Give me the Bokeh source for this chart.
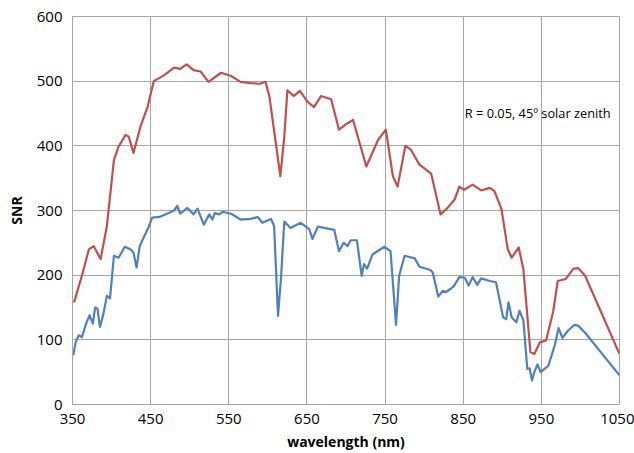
from bokeh.plotting import figure
from bokeh.models import Range1d, FixedTicker, Label
from bokeh.embed import file_html
from bokeh.resources import INLINE

# Upper curve (red)
red_wl = [352, 362, 371, 377, 386, 394, 403, 409, 418, 422, 428, 437, 446, 454, 467,
          480, 488, 496, 505, 514, 524, 540, 553, 565, 578, 590, 597, 602, 616, 621,
          625, 633, 641, 651, 659, 668, 681, 691, 702, 709, 726, 741, 751, 760, 766,
          776, 783, 794, 809, 821, 830, 839, 845, 851, 862, 873, 884, 890, 899, 907,
          912, 921, 927, 936, 941, 948, 956, 965, 971, 981, 991, 997, 1006, 1050]
red_snr = [158, 199, 240, 245, 225, 276, 378, 399, 417, 414, 389, 430, 460, 500, 509,
           521, 519, 526, 517, 515, 499, 513, 508, 499, 497, 496, 499, 476, 353, 414,
           486, 477, 485, 468, 460, 477, 472, 425, 435, 440, 368, 409, 425, 353, 337,
           400, 394, 371, 357, 294, 304, 317, 337, 332, 340, 331, 335, 330, 302, 240,
           227, 243, 209, 81, 78, 96, 99, 143, 191, 194, 210, 211, 199, 78]

# Lower curve (blue)
blue_wl = [351, 354, 358, 362, 368, 372, 376, 379, 382, 385, 389, 394, 398, 403, 409,
           417, 424, 428, 432, 436, 441, 447, 452, 461, 471, 480, 484, 488, 497, 505,
           510, 518, 525, 529, 532, 538, 542, 553, 565, 578, 587, 593, 604, 608, 613,
           617, 621, 629, 642, 653, 657, 664, 685, 691, 697, 702, 706, 714, 720, 723,
           727, 734, 749, 757, 764, 768, 775, 788, 794, 808, 811, 818, 824, 828, 834,
           838, 845, 852, 857, 862, 868, 873, 884, 892, 901, 905, 908, 912, 918, 922,
           927, 932, 935, 938, 941, 945, 949, 959, 967, 972, 977, 984, 992, 997, 1006,
           1050]
blue_snr = [76, 96, 107, 104, 127, 138, 125, 150, 148, 120, 137, 168, 164, 230, 227,
            244, 240, 235, 212, 245, 258, 273, 289, 290, 295, 300, 307, 295, 304, 294,
            303, 278, 294, 286, 296, 294, 298, 295, 286, 287, 290, 281, 287, 276, 137,
            199, 283, 273, 281, 271, 256, 275, 270, 237, 250, 245, 254, 254, 199, 217,
            210, 232, 244, 237, 123, 199, 230, 226, 213, 208, 204, 167, 176, 174, 179,
            183, 197, 196, 184, 197, 185, 195, 191, 189, 135, 132, 158, 135, 127, 145,
            130, 55, 56, 37, 50, 62, 50, 60, 91, 118, 103, 114, 123, 122, 111,
            45]

x_ticks = [350, 450, 550, 650, 750, 850, 950, 1050]
y_ticks = [0, 100, 200, 300, 400, 500, 600]
note = "R = 0.05, 45º solar zenith"

FONT = "Open Sans"
GRID = "#a6a6a6"

p = figure(width=634, height=453, output_backend="svg", toolbar_location=None,
           x_range=Range1d(350, 1050), y_range=Range1d(0, 600),
           min_border_left=72, min_border_right=15, min_border_top=16,
           min_border_bottom=47)

p.line(red_wl, red_snr, line_color="#c0504d", line_width=2.2, line_join="round")
p.line(blue_wl, blue_snr, line_color="#4f81bd", line_width=2.2, line_join="round")

p.xaxis.ticker = FixedTicker(ticks=x_ticks)
p.yaxis.ticker = FixedTicker(ticks=y_ticks)
p.xgrid.ticker = FixedTicker(ticks=x_ticks)
p.ygrid.ticker = FixedTicker(ticks=y_ticks)
p.grid.grid_line_color = GRID
p.grid.grid_line_width = 1
p.outline_line_color = GRID
p.outline_line_width = 1

for ax in (p.xaxis[0], p.yaxis[0]):
    ax.axis_line_color = GRID
    ax.major_tick_line_color = None
    ax.minor_tick_line_color = None
    ax.major_label_text_font = FONT
    ax.major_label_text_font_size = "15px"
    ax.major_label_text_color = "#000000"
    ax.axis_label_text_font = FONT
    ax.axis_label_text_font_style = "bold"
    ax.axis_label_text_font_size = "14px"
    ax.axis_label_text_color = "#000000"

p.xaxis.axis_label = "wavelength (nm)"
p.yaxis.axis_label = "SNR"
p.xaxis.major_label_standoff = 3
p.xaxis.axis_label_standoff = 5
p.yaxis.major_label_standoff = 4
p.yaxis.axis_label_standoff = 8

p.add_layout(Label(x=852, y=451, text=note, text_font=FONT, text_font_size="12.8px",
                   text_color="#000000", text_baseline="middle"))

open("out.html", "w").write(file_html(p, INLINE))
